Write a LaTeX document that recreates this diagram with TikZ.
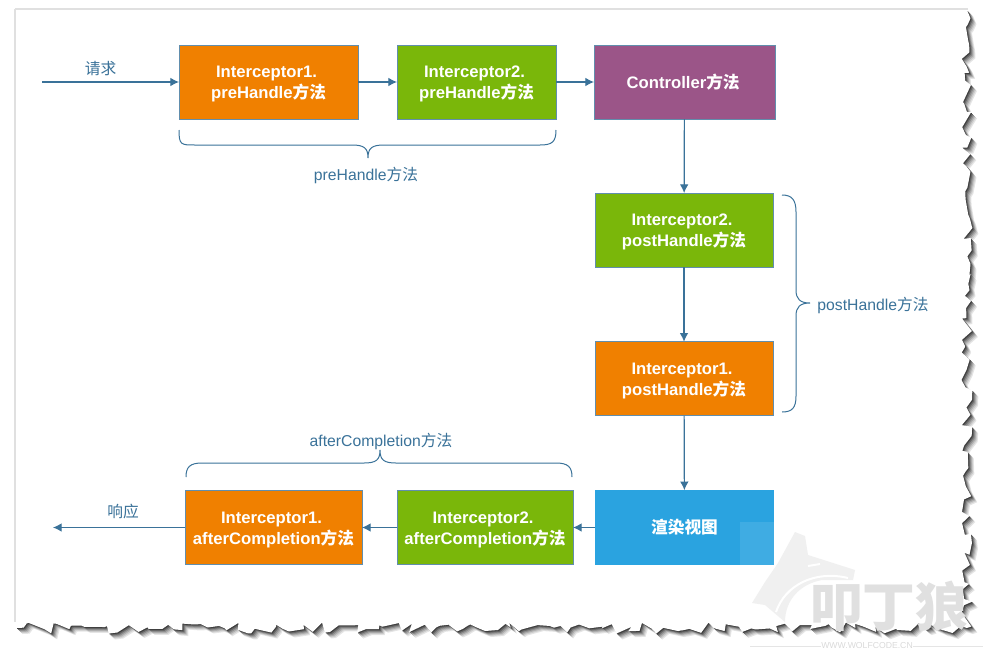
\documentclass[tikz,border=0pt]{standalone}
\usepackage{fontspec}
\setmainfont{Liberation Sans}
\newfontfamily\cjk{Noto Sans CJK SC}
\usepackage{xcolor}
\usetikzlibrary{positioning,arrows.meta,decorations.pathmorphing}

\definecolor{lineblue}{HTML}{3A7299}
\definecolor{boxorange}{HTML}{F08000}
\definecolor{boxgreen}{HTML}{7AB70A}
\definecolor{boxpurple}{HTML}{9B5588}
\definecolor{boxblue}{HTML}{2AA3E0}
\newcommand{\fangfa}{{\cjk 方法}}
\newcommand{\firstline}[1]{\rule{0pt}{12pt}#1\hspace*{3pt}}

\tikzset{
  methodbox/.style={draw=lineblue!80,line width=.6pt,text=white,align=center,outer sep=0pt,inner sep=0pt,
    minimum height=55.5pt,font=\fontsize{12.5}{15.75}\selectfont\bfseries},
  orangebox/.style={methodbox,fill=boxorange},
  greenbox/.style={methodbox,fill=boxgreen},
  link/.style={draw=lineblue,line width=.9pt,-{Latex[length=6.5pt,width=6.5pt]}},
  curly/.style={draw=lineblue,line width=.75pt},
  bluetext/.style={text=lineblue,inner sep=0pt,font=\fontsize{11.8}{14}\selectfont},
  torn/.style={decorate,decoration={random steps,segment length=5pt,amplitude=4.2pt}},
}

\begin{document}
\begin{tikzpicture}[x=0.75pt,y=-0.75pt,node distance=29.25pt]
  \useasboundingbox (0,0) rectangle (987,657);
  % torn sheet
  \draw[black!12,line width=1pt] (15,9) -- (968,9) (15,9) -- (15,622);
  \foreach \off/\shade in {6/black!10,5/black!20,4/black!32,3/black!45,2/black!60,1/black!75} {
    \pgfmathsetseed{4242}
    \fill[\shade,shift={(\off,\off)}] (16,10) -- (967,10) decorate[torn] {-- (967,628) -- (16,628)} -- cycle;
  }
  \pgfmathsetseed{4242}
  \fill[white] (16,10) -- (967,10) decorate[torn] {-- (967,628) -- (16,628)} -- cycle;

  % watermark
  \fill[black!6,line join=round]
    (795,532) -- (805,536) -- (808,555) -- (855,570) -- (853,580) -- (822,580)
    .. controls (800,584) and (785,600) .. (785,622)
    -- (765,605) -- (752,603) -- (765,582) -- (778,563) -- cycle;
  \draw[white,line width=1.5pt] (808,566) -- (820,564) (848,578) .. controls (815,570) and (785,585) .. (776,612);
  \node[text=black!12,inner sep=0pt,font=\fontsize{39.5}{42}\selectfont\bfseries] (logo) at (889,606) {{\cjk 叩丁狼}};
  \node[text=black!15,inner sep=0pt,font=\fontsize{6.5}{8}\selectfont] (weblabel) at (867,646) {WWW.WOLFCODE.CN};
  \draw[black!10,line width=.6pt] (750,646) -- (weblabel) -- (983,646);

  % top row
  \node[orangebox,minimum width=134.25pt] (pre1) at (268.5,82) {\firstline{Interceptor1.}\\preHandle\fangfa};
  \node[greenbox,minimum width=119.25pt,right=of pre1] (pre2) {\firstline{Interceptor2.}\\preHandle\fangfa};
  \node[methodbox,fill=boxpurple,minimum width=135.75pt,right=28.5pt of pre2] (ctrl) {Controller\fangfa\hspace*{2pt}};
  % right column
  \node[greenbox,minimum width=133.5pt] (post2) at (684,230) {\firstline{Interceptor2.}\\postHandle\fangfa};
  \node[orangebox,minimum width=133.5pt,below=56pt of post2] (post1) {\firstline{Interceptor1.}\\postHandle\fangfa};
  \node[methodbox,draw=none,fill=boxblue,minimum width=134.25pt,minimum height=56pt] (render) at (684.5,527.5) {{\cjk 渲染视图}};
  % bottom row
  \node[greenbox,minimum width=132pt,minimum height=56pt] (after2) at (485,527.5) {\firstline{Interceptor2.}\\afterCompletion\fangfa};
  \node[orangebox,minimum width=132.75pt,minimum height=56pt] (after1) at (273.5,527.5) {\firstline{Interceptor1.}\\afterCompletion\fangfa};
  \fill[white,opacity=.1] (740,522) rectangle (774,565);

  \coordinate (reqstart) at (42,82);
  \coordinate (respend) at (53,527.5);
  \node[bluetext] (reqlabel) at (100.5,69) {{\cjk 请求}};
  \node[bluetext] (resplabel) at (123,512) {{\cjk 响应}};

  \draw[link] (reqstart) -- (pre1);
  \draw[link] (pre1) -- (pre2);
  \draw[link] (pre2) -- (ctrl);
  \draw[link] (ctrl) -- (post2);
  \draw[link] (post2) -- (post1);
  \draw[link] (post1) -- (render);
  \draw[link] (render) -- (after2);
  \draw[link] (after2) -- (after1);
  \draw[link] (after1) -- (respend);

  % braces
  \coordinate (prea) at (179,130);
  \coordinate (preb) at (556,130);
  \coordinate (posta) at (782,195);
  \coordinate (postb) at (782,412);
  \coordinate (aftera) at (186,477);
  \coordinate (afterb) at (572,477);
  \draw[curly] (prea) .. controls +(0,15) and +(-14,0) .. +(16,15) -- (352,145)
    .. controls (364,145) and (368,148) .. (368,158) .. controls (368,148) and (372,145) .. (384,145)
    -- (540,145) .. controls (552,145) and (556,142) .. (preb);
  \draw[curly] (posta) .. controls (792,195) and (796,200) .. (796,212) -- (796,290)
    .. controls (796,299) and (800,303) .. (810,303) .. controls (800,303) and (796,307) .. (796,316)
    -- (796,396) .. controls (796,408) and (792,412) .. (postb);
  \draw[curly] (aftera) .. controls (186,467) and (190,463) .. (202,463) -- (364,463)
    .. controls (376,463) and (380,460) .. (380,450) .. controls (380,460) and (384,463) .. (396,463)
    -- (556,463) .. controls (568,463) and (572,467) .. (afterb);
  \node[bluetext] (prelabel) at (366,175) {preHandle\fangfa};
  \node[bluetext] (postlabel) at (873,305) {postHandle\fangfa};
  \node[bluetext] (afterlabel) at (381,441) {afterCompletion\fangfa};
\end{tikzpicture}
\end{document}
